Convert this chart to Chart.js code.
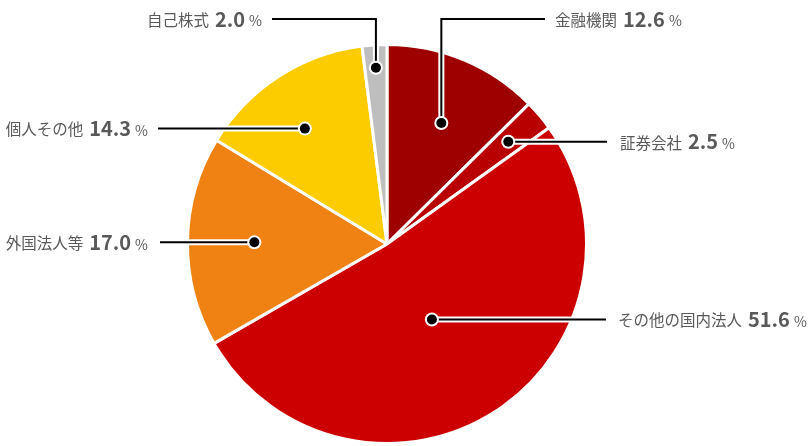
<!DOCTYPE html>
<html>
<head>
<meta charset="utf-8">
<script src="https://cdn.jsdelivr.net/npm/chart.js@4/dist/chart.umd.min.js"></script>
<style>
  html, body { margin: 0; padding: 0; background: #fff; }
  #wrap { width: 810px; height: 446px; position: relative; }
</style>
</head>
<body>
<div id="wrap"><canvas id="holders"></canvas></div>
<script>
// Shareholder distribution (%)
const categories = ['金融機関', '証券会社', 'その他の国内法人', '外国法人等', '個人その他', '自己株式'];
const shares = [12.6, 2.5, 51.6, 17.0, 14.3, 2.0];
const sliceColors = ['#9e0000', '#b90000', '#cc0000', '#f08214', '#fccc00', '#bebebe'];

// Callout layout: dot distance (fraction of radius), angle nudge (deg), optional elbow y, line end x, side
const callouts = [
    { r: 0.665, nudge: 1.5, elbowY: 19, endX: 545, side: 'right', gap: 10 },
    { r: 0.795, nudge: 0, elbowY: null, endX: 607, side: 'right', gap: 13 },
    { r: 0.44, nudge: 2, elbowY: null, endX: 606, side: 'right', gap: 12 },
    { r: 0.665, nudge: 0, elbowY: null, endX: 160, side: 'left', gap: 12 },
    { r: 0.71, nudge: -2.5, elbowY: null, endX: 158, side: 'left', gap: 10 },
    { r: 0.885, nudge: 0, elbowY: 19, endX: 272, side: 'left', gap: 10 },
];

const FONT = '"Noto Sans CJK JP", "Noto Sans", sans-serif';
const TEXT_COLOR = '#595959';

const calloutPlugin = {
    id: 'callouts',
    afterDatasetsDraw(chart) {
        const { ctx } = chart;
        const meta = chart.getDatasetMeta(0);
        ctx.save();
        meta.data.forEach((arc, i) => {
            const c = callouts[i];
            const { x, y, startAngle, endAngle, outerRadius } = arc.getProps(['x', 'y', 'startAngle', 'endAngle', 'outerRadius'], true);
            const mid = (startAngle + endAngle) / 2 + c.nudge * Math.PI / 180;
            const dx = x + Math.cos(mid) * outerRadius * c.r;
            const dy = y + Math.sin(mid) * outerRadius * c.r;
            const lineY = c.elbowY !== null ? c.elbowY : dy;

            const path = () => {
                ctx.beginPath();
                ctx.moveTo(dx, dy);
                if (c.elbowY !== null) ctx.lineTo(dx, c.elbowY);
                ctx.lineTo(c.endX, lineY);
            };
            ctx.lineJoin = 'miter';
            ctx.strokeStyle = '#fff';
            ctx.lineWidth = 6;
            path();
            ctx.stroke();
            ctx.strokeStyle = '#000';
            ctx.lineWidth = 2;
            path();
            ctx.stroke();

            ctx.beginPath();
            ctx.arc(dx, dy, 7, 0, Math.PI * 2);
            ctx.fillStyle = '#fff';
            ctx.fill();
            ctx.beginPath();
            ctx.arc(dx, dy, 5, 0, Math.PI * 2);
            ctx.fillStyle = '#000';
            ctx.fill();

            // label text
            const labelFont = '400 15.5px ' + FONT;
            const valueFont = '700 20px ' + FONT;
            const pctFont = '400 14px ' + FONT;
            const value = shares[i].toFixed(1);
            ctx.font = labelFont;
            const wl = ctx.measureText(categories[i]).width;
            ctx.font = valueFont;
            const wv = ctx.measureText(value).width;
            ctx.font = pctFont;
            const wp = ctx.measureText('%').width;
            const total = wl + 6 + wv + 4 + wp;
            let tx = c.side === 'right' ? c.endX + c.gap : c.endX - c.gap - total;

            ctx.textAlign = 'left';
            ctx.textBaseline = 'middle';
            ctx.fillStyle = TEXT_COLOR;
            ctx.font = labelFont;
            ctx.fillText(categories[i], tx, lineY + 1);
            tx += wl + 6;
            ctx.font = valueFont;
            ctx.fillText(value, tx, lineY);
            tx += wv + 4;
            ctx.font = pctFont;
            ctx.fillText('%', tx, lineY + 2);
        });
        ctx.restore();
    }
};

new Chart(document.getElementById('holders'), {
    type: 'pie',
    data: {
        labels: categories,
        datasets: [{
            data: shares,
            backgroundColor: sliceColors,
            borderColor: '#fff',
            borderWidth: 3,
        }],
    },
    options: {
        animation: false,
        responsive: true,
        maintainAspectRatio: false,
        layout: { padding: { left: 186, right: 222, top: 43, bottom: 1 } },
        plugins: {
            legend: { display: false },
            tooltip: { enabled: false },
        },
    },
    plugins: [calloutPlugin],
});
</script>
</body>
</html>
